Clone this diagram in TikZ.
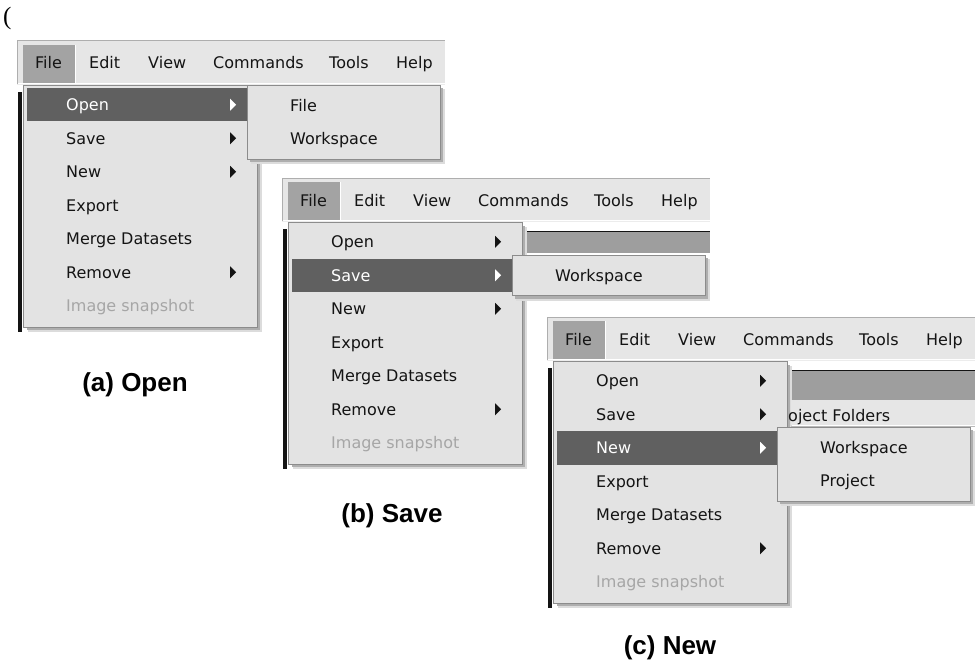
\documentclass[tikz,border=0pt]{standalone}
\usepackage{fontspec}
\setmainfont{Liberation Sans}
\newfontfamily\menufont{DejaVu Sans}
\newfontfamily\parenfont{Liberation Serif}
\usepackage{tikz}
\definecolor{ink}{HTML}{141414}
\definecolor{barbg}{HTML}{E6E6E6}
\definecolor{menubg}{HTML}{E3E3E3}
\definecolor{filebox}{HTML}{A3A3A3}
\definecolor{selrow}{HTML}{606060}
\definecolor{edgegray}{HTML}{8C8C8C}
\definecolor{shadowgray}{HTML}{9A9A9A}
\definecolor{dimtext}{HTML}{A6A6A6}
\definecolor{bandgray}{HTML}{9E9E9E}

\begin{document}
\begin{tikzpicture}[x=1pt,y=-1pt,
  menutext/.style={font=\menufont\fontsize{16}{19}\selectfont,text=ink,inner sep=0pt,anchor=base west},
  caption/.style={font=\fontsize{26}{30}\selectfont\bfseries,text=black,inner sep=0pt,anchor=base}]
  \useasboundingbox (0,0) rectangle (979,666);
  \def\rowh{33.5}
  \def\rowtop{88}
  \def\barend{445}

  \node[font=\parenfont\fontsize{25}{28}\selectfont,inner sep=0pt,anchor=base west]
    (lparen) at (3,25) {(};

  \newcommand{\filemenu}[3]{%
    % Window frame and menu bar.
    \fill[barbg] (17,41) rectangle (\barend,83);
    \draw[edgegray!70,line width=1pt] (17,84) -- (17,41) -- (\barend,41);
    \draw[white!85!gray] (17,84) -- (\barend,84);
    \fill[filebox] (23,45) rectangle (75,83);
    \draw[white] (75.5,45) -- (75.5,83);
    \foreach \lab/\xx in {File/35,Edit/89,View/148,Commands/213,Tools/329,Help/396}{
      \node[menutext] (#1-bar-\lab) at (\xx,69) {\lab};
    }
    % Window content behind the menus.
    \fill[bandgray] (257,95) rectangle (\barend,#3);
    \draw[ink,line width=1.5pt] (257,94.5) -- (\barend,94.5);
    \fill[ink] (18,92) rectangle (21.5,332);
    % Drop-down list.
    \fill[shadowgray!35] (28,90) rectangle (262,332);
    \fill[shadowgray!80] (27,89) rectangle (260,330);
    \filldraw[fill=menubg,draw=edgegray] (23,85) rectangle (257,327);
    \pgfmathsetmacro{\seltop}{\rowtop+#2*\rowh}
    \pgfmathsetmacro{\selbot}{\seltop+\rowh}
    \fill[selrow] (27,\seltop) rectangle (247,\selbot);
    \foreach \lab/\hasarrow [count=\r from 0] in
      {Open/1,Save/1,New/1,Export/0,Merge Datasets/0,Remove/1,Image snapshot/0}{
      \pgfmathsetmacro{\yy}{\rowtop+(\r+0.5)*\rowh}
      \def\tc{ink}
      \ifnum\r=6 \def\tc{dimtext}\fi
      \ifnum\r=#2 \def\tc{white}\fi
      \node[menutext,text=\tc] (#1-row\r) at (66,{\yy+6}) {\lab};
      \ifnum\hasarrow=1
        \fill[\tc] (230,{\yy-6}) -- (236,\yy) -- (230,{\yy+6}) -- cycle;
      \fi
    }
  }

  \newcommand{\submenu}[4]{%
    \pgfmathsetmacro{\subbot}{#2+7+#3*\rowh}
    \fill[shadowgray!35] (251,{#2+4}) rectangle (445,{\subbot+5});
    \fill[shadowgray!80] (250,{#2+3}) rectangle (443,{\subbot+3});
    \filldraw[fill=menubg,draw=edgegray] (247,#2) rectangle (440,\subbot);
    \foreach \lab [count=\i from 0] in {#4}{
      \pgfmathsetmacro{\ys}{#2+3.5+(\i+0.5)*\rowh+6}
      \node[menutext] (#1-sub\i) at (290,\ys) {\lab};
    }
  }

  % (a) Open
  \filemenu{open}{0}{125}
  \submenu{open}{85}{2}{File,Workspace}
  \node[caption] (cap-open) at (135,391) {(a) Open};

  % (b) Save
  \begin{scope}[shift={(265,137)}]
    \filemenu{save}{1}{116}
    \submenu{save}{118}{1}{Workspace}
  \end{scope}
  \node[caption] (cap-save) at (392,522) {(b) Save};

  % (c) New
  \begin{scope}[shift={(530,276)}]
    \filemenu{new}{2}{124}
    \fill[barbg] (261,124) rectangle (\barend,149);
    \draw[edgegray!60] (261,150.5) -- (\barend,150.5);
    \node[menutext] (new-folders) at (258,145) {oject Folders};
    \submenu{new}{151}{2}{Workspace,Project}
  \end{scope}
  \node[caption] (cap-new) at (670,654) {(c) New};
\end{tikzpicture}
\end{document}
